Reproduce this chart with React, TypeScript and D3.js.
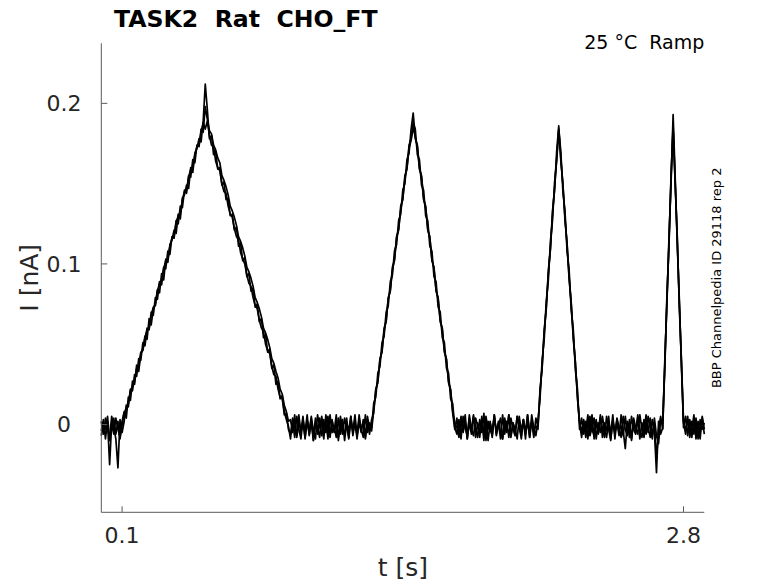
import React from 'react';
import * as d3 from 'd3';

// sweeps sampled every 10 ms from t = 0 s, values in pA
const sampleStep = 0.01;

const sweepA = [
  -4, 3, -9, 2, -25, 1, -6, 4, -3, -8, 2,
  8, 4, 17, 15, 27, 25, 37, 33, 44, 47, 55, 53, 66, 62, 72, 75, 84, 82, 94, 90, 103, 101, 112, 115, 121, 119, 131, 128, 141, 143, 149, 147, 160, 157, 169, 172, 178, 176, 189, 212,
  196, 178, 180, 168, 170, 159, 160, 149, 151, 140, 141, 130, 131, 121, 123, 111, 113, 102, 104, 92, 94, 83, 85, 73, 75, 64, 66, 54, 56, 45, 47, 35, 37, 25, 27, 16, 18, 6, 7, -3,
  -6, 2, -8, 5, -3, -9, 3, -5, 6, -7, 1, -10, 4, -2, -8, 5, -4, 2, -9, 6, -5, -1, -8, 4, -6, 3, -10, 1, -4, 5, -7, 2, -9, 4, -3, -8, 6, -5, 1,
  -2, 13, 17, 32, 36, 51, 55, 70, 74, 89, 93, 108, 112, 127, 131, 146, 150, 165, 169, 184, 194,
  178, 174, 159, 155, 140, 136, 121, 117, 102, 98, 83, 79, 64, 60, 45, 41, 26, 22, 7, -3,
  4, -7, 2, -4, 6, -9, 1, -6, 5, -2, -8, 3, -5, 7, -10, 2, -3, -7, 5, -4, 1, -9, 6, -6, 2, -8, 4, -3, -7, 5, -1, -9, 3, -5, 6, -8, 2, -4, -1,
  -3, 22, 35, 59, 72, 96, 109, 133, 146, 170, 186,
  164, 150, 127, 113, 90, 76, 53, 39, 16, 2,
  -5, 3, -8, 1, -4, 6, -9, 2, -6, 4, -2, -8, 5, -3, -10, 3, -5, 1, -7, 6, -4, -15, 2, -8, 5, -3, -6, 4, -9, 1, -5, 6, -2, -8, 3, -4, -30, 2, -6,
  -2, 40, 74, 116, 150, 193,
  154, 112, 78, 36, 1,
  -4, 5, -8, 2, -6, 4, -9, 3, -3, 1,
];

const sweepB = [
  2, -6, 4, -3, -8, 5, -2, -9, -27, 3, -5,
  2, 12, 11, 22, 21, 31, 30, 41, 40, 51, 49, 60, 59, 70, 68, 79, 78, 89, 87, 98, 97, 108, 106, 117, 116, 127, 125, 136, 135, 146, 144, 155, 154, 165, 163, 174, 173, 184, 182, 198,
  190, 183, 181, 174, 171, 166, 163, 155, 152, 148, 143, 136, 133, 129, 124, 117, 114, 110, 105, 98, 95, 91, 86, 79, 76, 72, 67, 60, 57, 53, 48, 41, 38, 33, 29, 22, 19, 12, 8, 2,
  3, -5, 6, -8, 1, -4, 5, -9, 2, -6, 4, -3, -9, 6, -1, -7, 3, -5, 5, -8, 2, -4, 6, -10, 1, -6, 4, -2, -8, 5, -5, 1, -7, 6, -4, 2, -9, 3, -6,
  3, 7, 22, 26, 41, 45, 60, 64, 79, 83, 98, 102, 117, 121, 136, 140, 155, 159, 174, 178, 188,
  184, 168, 165, 149, 146, 130, 127, 111, 108, 92, 89, 73, 70, 54, 51, 35, 32, 16, 13, -2,
  -6, 3, -9, 5, -2, -7, 4, -4, 6, -8, 1, -5, 3, -10, 5, -3, 2, -8, 6, -6, -1, 4, -9, 2, -5, 6, -7, 1, -3, -9, 5, -4, 3, -6, 2, -8, 6, -2, -7,
  2, 16, 40, 53, 77, 90, 114, 127, 151, 164, 184,
  170, 145, 133, 108, 96, 71, 59, 34, 22, -3,
  4, -6, 2, -9, 5, -3, -7, 3, -5, 6, -8, 1, -4, 5, -9, 2, -6, 4, -2, -8, 5, -3, -7, 3, -10, 2, -5, 6, -4, -8, 3, -6, 5, -2, -9, 4, -7, -12, 3,
  3, 35, 79, 111, 155, 186,
  149, 117, 73, 40, -2,
  5, -7, 3, -4, 6, -9, 2, -5, 4, -6,
];

const sweepC = [
  -7, 1, -3, 5, -10, -2, 4, -6, 2, -9, 0,
  7, 10, 13, 21, 23, 27, 35, 36, 45, 46, 54, 59, 60, 68, 73, 74, 83, 88, 89, 97, 102, 103, 111, 116, 117, 126, 130, 131, 140, 145, 146, 154, 159, 160, 168, 173, 174, 182, 188, 184,
  189, 180, 174, 173, 164, 160, 158, 150, 145, 144, 136, 131, 129, 122, 117, 115, 107, 103, 100, 93, 88, 86, 79, 74, 72, 65, 60, 58, 50, 46, 44, 36, 31, 30, 22, 17, 16, 8, 3, -1,
  -9, 4, -2, -7, 6, -5, 1, -8, 3, -4, 5, -10, 2, -6, 4, -1, -9, 6, -3, -7, 3, -5, 1, -8, 5, -2, -6, 4, -9, 2, -4, 6, -7, 1, -5, 3, -8, 5, -3,
  -4, 9, 21, 27, 40, 46, 58, 65, 78, 84, 96, 103, 116, 122, 134, 141, 153, 160, 172, 177, 185,
  179, 173, 160, 154, 141, 135, 122, 116, 103, 97, 84, 78, 65, 59, 46, 40, 27, 21, 8, 1,
  -2, -8, 5, -5, 2, -9, 6, -3, -7, 4, -1, -8, 5, -6, 3, -10, 1, -4, 6, -7, 2, -5, -9, 4, -3, 6, -8, 1, -6, 5, -2, -7, 3, -9, 6, -4, 1, -8, 4,
  -1, 20, 36, 57, 73, 94, 110, 131, 147, 166, 183,
  166, 149, 129, 112, 92, 75, 55, 38, 18, 1,
  -8, 2, -4, 6, -7, -2, 4, -9, 1, -5, 5, -3, -8, 2, -6, 6, -9, 3, -4, -1, -7, 5, -5, 1, -9, 4, -2, -6, 6, -3, -8, 2, -5, 4, -7, 1, -22, -3, 5,
  -3, 37, 77, 113, 153, 184,
  151, 115, 75, 39, 2,
  -6, 3, -2, -8, 4, -5, 1, -9, 5, -3,
];

const sweeps = [sweepA, sweepB, sweepC];

const xTicks = [0.1, 2.8];
const yTicks = [0, 0.1, 0.2];

const title = 'TASK2  Rat  CHO_FT';
const condition = '25 °C  Ramp';
const source = 'BBP Channelpedia ID 29118 rep 2';

const W = 778;
const H = 583;
const left = 101.3;
const right = 704.3;
const top = 43.3;
const bottom = 512.3;
const axisColor = '#5a5a5a';
const labelColor = '#262626';
const font = 'DejaVu Sans, sans-serif';

export default function App() {
  const x = d3.scaleLinear().domain([0, 2.9]).range([left, right]);
  const y = d3.scaleLinear().domain([-0.0547, 0.2374]).range([bottom, top]);

  const line = d3
    .line<number>()
    .x((_, i) => x(i * sampleStep))
    .y((d) => y(d / 1000));

  return (
    <div style={{ position: 'fixed', left: 0, top: 0 }}>
      <svg width={W} height={H} style={{ display: 'block', background: '#fff' }}>
        {/* traces */}
        <g fill="none" stroke="#000" strokeWidth={1.7} strokeLinejoin="round">
          {sweeps.map((s, k) => (
            <path key={k} d={line(s) || ''} />
          ))}
        </g>

        {/* axes */}
        <g stroke={axisColor} strokeWidth={1} fill="none">
          <line x1={left} x2={left} y1={top} y2={bottom} />
          <line x1={left} x2={right} y1={bottom} y2={bottom} />
          {xTicks.map((t) => (
            <line key={t} x1={x(t)} x2={x(t)} y1={bottom} y2={bottom - 6} />
          ))}
          {yTicks.map((t) => (
            <line key={t} x1={left} x2={left + 6} y1={y(t)} y2={y(t)} />
          ))}
        </g>

        <g fontFamily={font} fontSize={22} fill={labelColor}>
          {xTicks.map((t) => (
            <text key={t} x={x(t)} y={bottom + 31} textAnchor="middle">
              {d3.format('.1f')(t)}
            </text>
          ))}
          {yTicks.map((t) => (
            <text key={t} x={64} y={y(t) + 8} textAnchor="middle">
              {t === 0 ? '0' : d3.format('.1f')(t)}
            </text>
          ))}
        </g>

        <text
          x={(left + right) / 2}
          y={576}
          textAnchor="middle"
          fontFamily={font}
          fontSize={25}
          fill={labelColor}
        >
          t [s]
        </text>
        <text
          transform={`translate(38,${(top + bottom) / 2}) rotate(-90)`}
          textAnchor="middle"
          fontFamily={font}
          fontSize={25}
          fill={labelColor}
        >
          I [nA]
        </text>

        <text
          x={114}
          y={26.5}
          fontFamily={font}
          fontSize={23.6}
          fontWeight="bold"
          fill="#000"
          style={{ whiteSpace: 'pre' }}
        >
          {title}
        </text>
        <text
          x={right}
          y={49}
          textAnchor="end"
          fontFamily={font}
          fontSize={19}
          fill="#000"
          style={{ whiteSpace: 'pre' }}
        >
          {condition}
        </text>
        <text
          transform={`translate(721,${(top + bottom) / 2}) rotate(-90)`}
          textAnchor="middle"
          fontFamily={font}
          fontSize={13}
          fill="#000"
        >
          {source}
        </text>
      </svg>
    </div>
  );
}
